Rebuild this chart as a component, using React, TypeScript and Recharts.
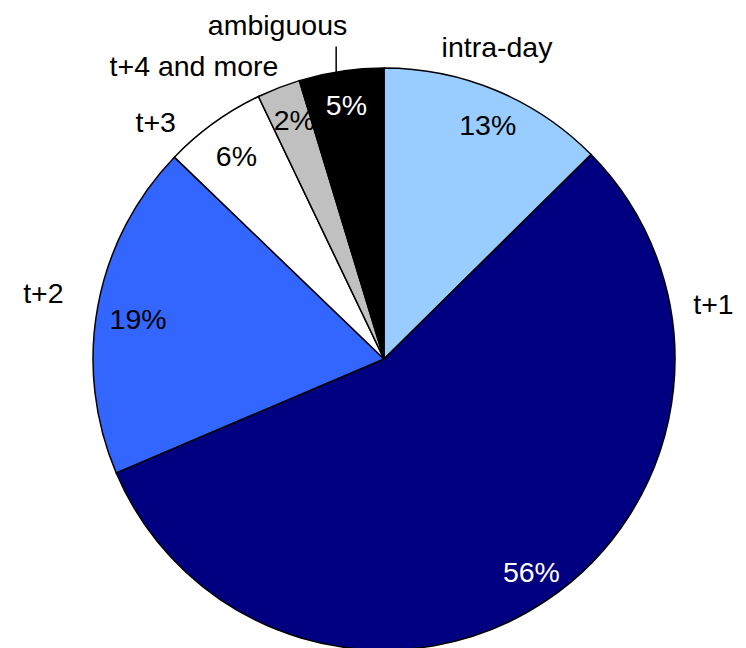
import React from 'react';
import { PieChart, Pie, Cell } from 'recharts';

const categories = ['intra-day', 't+1', 't+2', 't+3', 't+4 and more', 'ambiguous'];
const shares = [12.6, 56.0, 18.6, 5.7, 2.4, 4.7];
const percentLabels = ['13%', '56%', '19%', '6%', '2%', '5%'];

const sliceColors = ['#99CCFF', '#000080', '#3366FF', '#FFFFFF', '#C0C0C0', '#000000'];
const percentTextColors = ['#000000', '#FFFFFF', '#000000', '#000000', '#000000', '#FFFFFF'];
// percent label placement: clockwise degrees from 12 o'clock, radius relative to pie radius
const percentLabelAngle = [23.9, 145.3, 279.2, 324.0, 339.4, 351.6];
const percentLabelRadius = [0.88, 0.89, 0.856, 0.863, 0.876, 0.883];
// outer category label placement: clockwise degrees from 12 o'clock, radius relative to pie radius
const outerLabelAngle = [19.9, 80.5, 280.9, 316.1, 327, 342.3];
const outerLabelRadius = [1.141, 1.148, 1.192, 1.131, 1.199, 1.203];
const leaderLine = [false, false, false, false, false, true];

const data = categories.map((name, i) => ({ name, value: shares[i] }));

const RAD = Math.PI / 180;
const FONT = 'Liberation Sans, Arial, sans-serif';
const FS = 28.5;

const renderLabel = (props: any) => {
  const { cx, cy, midAngle, outerRadius, index } = props;
  const pa = percentLabelAngle[index] * RAD;
  const ir = outerRadius * percentLabelRadius[index];
  const px = cx + ir * Math.sin(pa);
  const py = cy - ir * Math.cos(pa);
  const a = outerLabelAngle[index] * RAD;
  const or = outerRadius * outerLabelRadius[index];
  const ox = cx + or * Math.sin(a);
  const oy = cy - or * Math.cos(a);
  let line = null;
  if (leaderLine[index]) {
    const la = (90 - midAngle - 1) * RAD;
    const lx = cx + outerRadius * Math.sin(la);
    const ly = cy - outerRadius * Math.cos(la);
    line = <line x1={lx} y1={ly} x2={lx} y2={oy + 21} stroke="#000" strokeWidth={1.5} />;
  }
  return (
    <g key={`lbl-${index}`}>
      <text x={px} y={py} fill={percentTextColors[index]} textAnchor="middle" dominantBaseline="central" fontSize={FS} fontFamily={FONT}>
        {percentLabels[index]}
      </text>
      <text x={ox} y={oy} fill="#000" textAnchor="middle" dominantBaseline="central" fontSize={FS} fontFamily={FONT}>
        {categories[index]}
      </text>
      {line}
    </g>
  );
};

export default function App() {
  return (
    <div style={{ position: 'absolute', left: 0, top: 0, width: 746, height: 648, background: '#fff' }}>
      <PieChart width={746} height={648} margin={{ top: 0, right: 0, bottom: 0, left: 0 }}>
        <Pie
          data={data}
          dataKey="value"
          nameKey="name"
          cx={384}
          cy={359}
          outerRadius={291}
          startAngle={90}
          endAngle={-270}
          isAnimationActive={false}
          labelLine={false}
          label={renderLabel}
        >
          {data.map((d, i) => (
            <Cell key={d.name} fill={sliceColors[i]} stroke="#000" strokeWidth={1.5} />
          ))}
        </Pie>
      </PieChart>
    </div>
  );
}
